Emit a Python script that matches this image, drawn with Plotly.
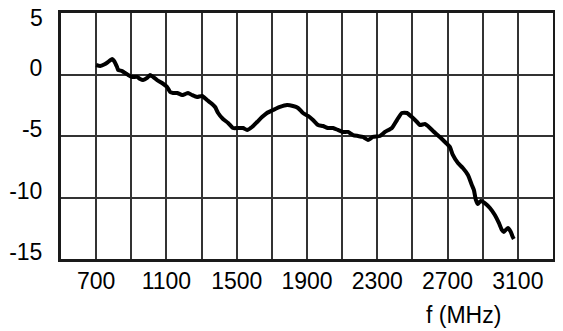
import plotly.graph_objects as go

freq_mhz = [700, 723, 751, 768, 791, 802, 819, 825, 848, 865, 882, 905, 933, 950, 967, 990,
            1007, 1024, 1047, 1075, 1104, 1121, 1138, 1161, 1189, 1206, 1223, 1246, 1274, 1303,
            1331, 1360, 1377, 1394, 1422, 1451, 1479, 1508, 1536, 1559, 1587, 1616, 1644, 1672,
            1707, 1746, 1786, 1820, 1849, 1877, 1906, 1934, 1963, 1991, 2019, 2048, 2076, 2105,
            2133, 2162, 2190, 2218, 2247, 2275, 2315, 2344, 2383, 2412, 2440, 2469, 2497, 2526,
            2543, 2571, 2588, 2617, 2656, 2685, 2713, 2730, 2759, 2787, 2816, 2838, 2850, 2861,
            2872, 2889, 2912, 2941, 2969, 2992, 3009, 3020, 3043, 3060, 3071, 3077]
gain_db = [0.77, 0.69, 0.85, 1.02, 1.26, 1.10, 0.61, 0.37, 0.28, 0.12, -0.04, -0.20, -0.20, -0.37,
           -0.45, -0.28, -0.04, -0.20, -0.45, -0.69, -1.02, -1.42, -1.50, -1.50, -1.67, -1.59,
           -1.50, -1.67, -1.83, -1.75, -2.07, -2.40, -2.64, -3.13, -3.62, -3.94, -4.35, -4.35,
           -4.35, -4.51, -4.27, -3.86, -3.46, -3.13, -2.89, -2.64, -2.48, -2.56, -2.72, -3.13,
           -3.37, -3.70, -4.11, -4.19, -4.35, -4.35, -4.51, -4.67, -4.67, -4.92, -5.00, -5.08,
           -5.32, -5.08, -5.00, -4.67, -4.35, -3.70, -3.13, -3.13, -3.46, -3.86, -4.11, -4.02,
           -4.19, -4.59, -5.08, -5.49, -5.89, -6.54, -7.20, -7.60, -8.17, -8.98, -9.40, -10.20,
           -10.53, -10.28, -10.45, -10.85, -11.42, -12.07, -12.64, -12.80, -12.48, -12.80,
           -13.21, -13.37]

x_grid_vals = [700, 900, 1100, 1300, 1500, 1700, 1900, 2100, 2300, 2500, 2700, 2900, 3100]
x_labels = ["700", "", "1100", "", "1500", "", "1900", "", "2300", "", "2700", "", "3100"]
y_vals = [-15, -10, -5, 0, 5]
y_labels = ["-15", "-10", "-5", "0", ""]
y_top_label = "5"
x_title = "f (MHz)"

font_family = "Liberation Sans, Arial, sans-serif"
fs = 23

fig = go.Figure()
fig.add_trace(go.Scatter(
    x=freq_mhz, y=gain_db, mode="lines",
    line=dict(color="black", width=4, shape="spline", smoothing=0.5),
    showlegend=False, hoverinfo="skip",
))

# the page body has an 8px default margin, so the figure is sized/offset to compensate
fig.update_layout(
    width=555, height=323,
    margin=dict(l=53, r=10, t=5, b=72, autoexpand=False),
    paper_bgcolor="white", plot_bgcolor="white",
    font=dict(family=font_family, size=fs, color="black"),
    xaxis=dict(
        range=[500, 3300], tickmode="array", tickvals=x_grid_vals, ticktext=x_labels,
        showgrid=True, gridcolor="#333333", gridwidth=2, zeroline=False,
        showline=True, linecolor="#1a1a1a", linewidth=3, mirror=True,
        ticks="", automargin=False, ticklabelstandoff=-1,
        tickfont=dict(size=fs, family=font_family, color="black"),
    ),
    yaxis=dict(
        range=[-15, 5], tickmode="array", tickvals=y_vals, ticktext=y_labels,
        showgrid=True, gridcolor="#333333", gridwidth=2, zeroline=False,
        showline=True, linecolor="#1a1a1a", linewidth=3, mirror=True,
        ticks="outside", ticklen=11, tickcolor="rgba(0,0,0,0)", automargin=False,
        ticklabelshift=-7, ticklabeloverflow="allow",
        tickfont=dict(size=fs, family=font_family, color="black"),
    ),
    annotations=[
        dict(
            text=x_title, xref="paper", yref="paper", x=0.819, y=-0.2276,
            xanchor="center", yanchor="middle", showarrow=False,
            font=dict(size=fs, family=font_family, color="black"),
        ),
        dict(
            text=y_top_label, xref="paper", yref="paper", x=-0.0325, y=1,
            xanchor="right", yanchor="middle", yshift=-5, showarrow=False,
            font=dict(size=fs, family=font_family, color="black"),
        ),
    ],
)

fig.write_html("out.html")
